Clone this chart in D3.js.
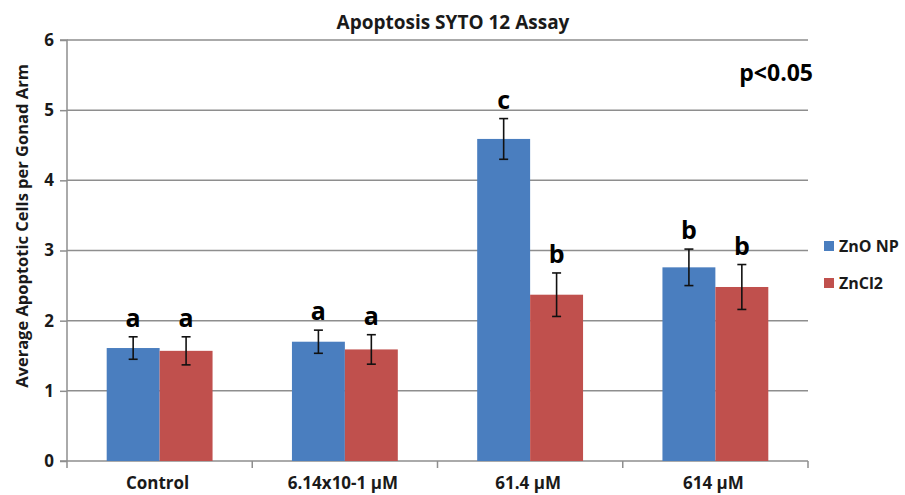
<!DOCTYPE html>
<html>
<head>
<meta charset="utf-8">
<script src="https://cdn.jsdelivr.net/npm/d3@7"></script>
<style>
  html, body { margin: 0; padding: 0; background: #fff; }
  svg { display: block; font-family: "Open Sans", Lato, sans-serif; }
</style>
</head>
<body>
<svg id="chart" width="905" height="495"></svg>
<script>
const categories = ["Control", "6.14x10-1 \u00b5M", "61.4 \u00b5M", "614 \u00b5M"];
const seriesNames = ["ZnO NP", "ZnCl2"];
const znoValues = [1.61, 1.70, 4.59, 2.76];
const zncl2Values = [1.57, 1.59, 2.37, 2.48];
const znoErrors = [0.16, 0.165, 0.29, 0.26];
const zncl2Errors = [0.20, 0.21, 0.31, 0.32];
const znoLetters = ["a", "a", "c", "b"];
const zncl2Letters = ["a", "a", "b", "b"];
const yTicks = [0, 1, 2, 3, 4, 5, 6];
const seriesColors = ["#4a7ebf", "#c0504d"];

(function () {
const svg = d3.select("#chart");
const pLeft = 67, pRight = 808, pTop = 40, pBottom = 461;
const FONT = "'Open Sans', Lato, sans-serif";

const y = d3.scaleLinear().domain([0, 6]).range([pBottom, pTop]);
const x0 = d3.scaleBand().domain(categories).range([pLeft, pRight]).padding(0);
const x1 = d3.scaleBand().domain(seriesNames).range([0, x0.bandwidth()]).paddingInner(0).paddingOuter(0.75);
const color = d3.scaleOrdinal().domain(seriesNames).range(seriesColors);

const rows = categories.map((c, i) => ({
  cat: c,
  items: [
    { s: seriesNames[0], v: znoValues[i], e: znoErrors[i], l: znoLetters[i] },
    { s: seriesNames[1], v: zncl2Values[i], e: zncl2Errors[i], l: zncl2Letters[i] }
  ]
}));

const gridColor = "#8e8e8e";
const textColor = "#1a1a1a";

// gridlines
svg.append("g").selectAll("line").data(yTicks.filter(t => t > 0)).join("line")
  .attr("x1", pLeft).attr("x2", pRight)
  .attr("y1", d => y(d)).attr("y2", d => y(d))
  .attr("stroke", gridColor).attr("stroke-width", 1.5);

// y axis
const yAxis = d3.axisLeft(y).tickValues(yTicks).tickSize(7).tickPadding(6).tickFormat(d3.format("d"));
const gy = svg.append("g").attr("transform", `translate(${pLeft},0)`).call(yAxis);
gy.select(".domain").attr("stroke", gridColor).attr("stroke-width", 1.5).attr("d", `M-7,${pTop}H0V${pBottom}`);
gy.selectAll(".tick line").attr("stroke", gridColor).attr("stroke-width", 1.5);
gy.selectAll(".tick text").attr("fill", textColor).style("font-size", "17px").style("font-weight", "bold").style("font-family", FONT);

// x axis
const boundaries = categories.map(c => x0(c)).concat([pRight]);
const gx = svg.append("g");
gx.append("line").attr("x1", pLeft - 7).attr("x2", pRight).attr("y1", pBottom).attr("y2", pBottom)
  .attr("stroke", gridColor).attr("stroke-width", 1.5);
gx.selectAll(".xt").data(boundaries).join("line").attr("class", "xt")
  .attr("x1", d => d).attr("x2", d => d).attr("y1", pBottom).attr("y2", pBottom + 7)
  .attr("stroke", gridColor).attr("stroke-width", 1.5);
gx.selectAll("text").data(categories).join("text")
  .attr("x", d => x0(d) + x0.bandwidth() / 2 - 2).attr("y", 489)
  .attr("text-anchor", "middle").attr("fill", textColor)
  .style("font-size", "17px").style("font-weight", "bold")
  .text(d => d);

// bars
const groups = svg.append("g").selectAll("g").data(rows).join("g")
  .attr("transform", d => `translate(${x0(d.cat)},0)`);

groups.selectAll("rect").data(d => d.items).join("rect")
  .attr("x", d => x1(d.s)).attr("width", x1.bandwidth())
  .attr("y", d => y(d.v)).attr("height", d => y(0) - y(d.v))
  .attr("fill", d => color(d.s));

// error bars
const cap = 4.5;
const eb = groups.selectAll("g.err").data(d => d.items).join("g").attr("class", "err");
eb.append("line")
  .attr("x1", d => x1(d.s) + x1.bandwidth() / 2).attr("x2", d => x1(d.s) + x1.bandwidth() / 2)
  .attr("y1", d => y(d.v + d.e)).attr("y2", d => y(d.v - d.e));
eb.append("line")
  .attr("x1", d => x1(d.s) + x1.bandwidth() / 2 - cap).attr("x2", d => x1(d.s) + x1.bandwidth() / 2 + cap)
  .attr("y1", d => y(d.v + d.e)).attr("y2", d => y(d.v + d.e));
eb.append("line")
  .attr("x1", d => x1(d.s) + x1.bandwidth() / 2 - cap).attr("x2", d => x1(d.s) + x1.bandwidth() / 2 + cap)
  .attr("y1", d => y(d.v - d.e)).attr("y2", d => y(d.v - d.e));
eb.selectAll("line").attr("stroke", "#111").attr("stroke-width", 1.6);

// significance letters
groups.selectAll("text.sig").data(d => d.items).join("text").attr("class", "sig")
  .attr("x", d => x1(d.s) + x1.bandwidth() / 2)
  .attr("y", d => y(d.v + d.e) - 10)
  .attr("text-anchor", "middle").attr("fill", "#000")
  .style("font-size", "25px").style("font-weight", "bold")
  .text(d => d.l);

// title
svg.append("text").attr("x", 453).attr("y", 29).attr("text-anchor", "middle")
  .attr("fill", textColor).style("font-size", "19px").style("font-weight", "bold")
  .text("Apoptosis SYTO 12 Assay");

// p value
svg.append("text").attr("x", 813).attr("y", 81).attr("text-anchor", "end")
  .attr("fill", "#000").style("font-size", "23px").style("font-weight", "bold")
  .text("p<0.05");

// y label
svg.append("text").attr("transform", `translate(28,226) rotate(-90)`)
  .attr("text-anchor", "middle").attr("fill", textColor)
  .style("font-size", "16.5px").style("font-weight", "bold")
  .text("Average Apoptotic Cells per Gonad Arm");

// legend
const legend = svg.append("g").selectAll("g").data(seriesNames).join("g")
  .attr("transform", (d, i) => `translate(824,${241 + i * 37})`);
legend.append("rect").attr("width", 10).attr("height", 10).attr("fill", d => color(d));
legend.append("text").attr("x", 15).attr("y", 11).attr("fill", textColor)
  .style("font-size", "16px").style("font-weight", "bold").text(d => d);
})();
</script>
</body>
</html>
